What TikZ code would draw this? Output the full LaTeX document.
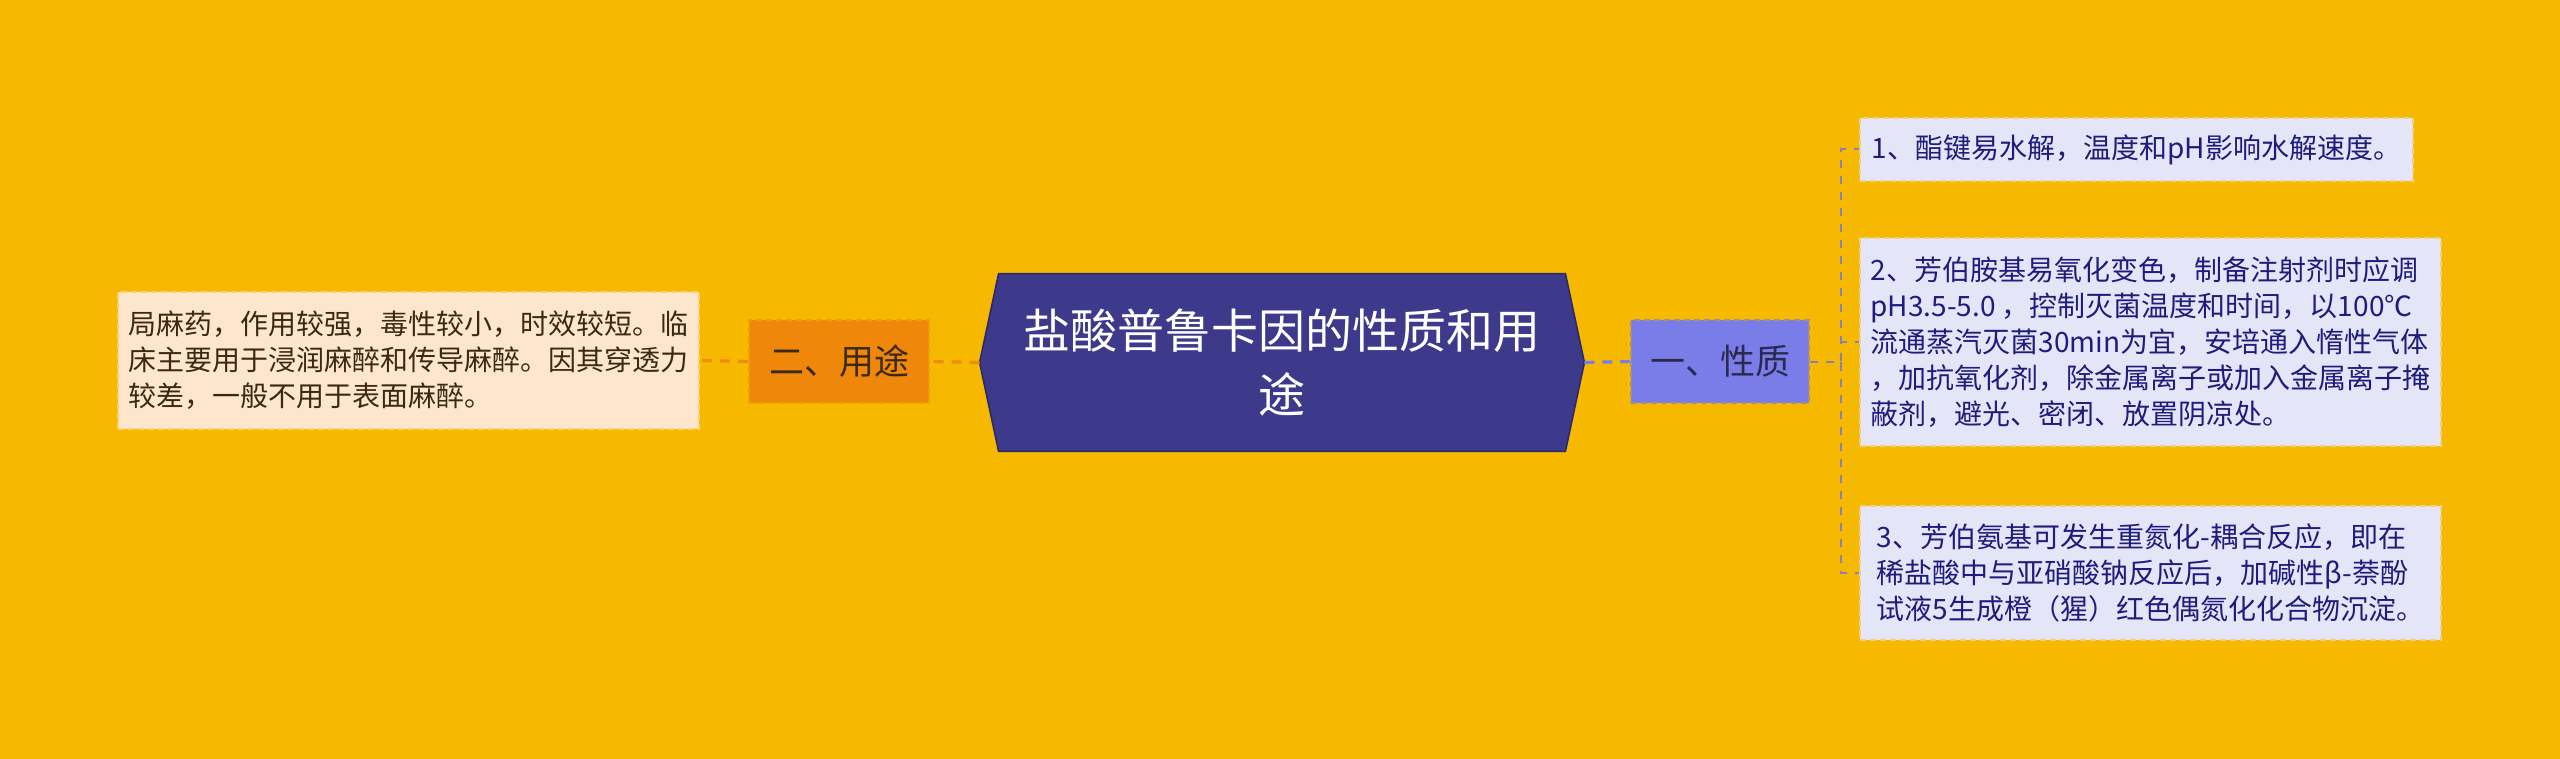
\documentclass[tikz,border=0pt]{standalone}
\usepackage{fontspec}
\setmainfont{Noto Sans CJK SC}
\usetikzlibrary{calc,backgrounds}
\definecolor{bg}{HTML}{F6B900}
\definecolor{rootfill}{HTML}{3D3A8C}
\definecolor{rootline}{HTML}{2C2968}
\definecolor{orangefill}{HTML}{EF870B}
\definecolor{orangeline}{HTML}{F08A12}
\definecolor{peach}{HTML}{FDE6CD}
\definecolor{peri}{HTML}{7A7CE8}
\definecolor{lav}{HTML}{E5E5F8}
\definecolor{navy}{HTML}{1E1C7C}
\definecolor{bus}{HTML}{8583B5}
\definecolor{darktext}{HTML}{3A2A14}
\definecolor{proptext}{HTML}{2A2A50}
\begin{document}
\begin{tikzpicture}[x=0.5pt,y=-0.5pt,
  leaf/.style={line width=1pt,dash pattern=on 3pt off 2pt,inner sep=0pt,align=left,font=\fontsize{14}{18}\selectfont},
  mid/.style={line width=1pt,dash pattern=on 3pt off 2pt,inner sep=0pt,minimum height=41.5pt,font=\fontsize{17.5}{21}\selectfont},
  conn/.style={line width=1.6pt,dash pattern=on 5pt off 4pt},
  busline/.style={draw=bus,line width=1pt,dash pattern=on 4pt off 4pt}]
\begin{scope}[on background layer]
\fill[bg] (0,0) rectangle (2560,759);
\end{scope}
\useasboundingbox (0,0) rectangle (2560,759);

% root
\node[minimum width=302pt,minimum height=88.5pt,inner sep=0pt,align=center,text=white,
  font=\fontsize{23.5}{32}\selectfont] (root) at (1282,362.5) {盐酸普鲁卡因的性质和用\\途};
\begin{scope}[on background layer]
\draw[fill=rootfill,draw=rootline,line width=0.8pt]
  (root.west) -- ([xshift=9.5pt]root.north west) -- ([xshift=-9.5pt]root.north east)
  -- (root.east) -- ([xshift=-9.5pt]root.south east) -- ([xshift=9.5pt]root.south west) -- cycle;
\end{scope}

% left side
\node[mid,fill=orangefill,draw=orangefill!55!bg,minimum width=90pt,text=darktext] (uses) at (839,361.5) {二、用途};
\node[leaf,fill=peach,draw=peach!55!bg,minimum width=290.5pt,minimum height=68.5pt,text=darktext] (usesText) at (408.5,360.5)
  {局麻药，作用较强，毒性较小，时效较短。临\\床主要用于浸润麻醉和传导麻醉。因其穿透力\\较差，一般不用于表面麻醉。};

% right side
\node[mid,fill=peri,draw=peri!60!bg!80!gray,minimum width=89pt,text=proptext] (prop) at (1720,361.5) {一、性质};
\node[leaf,fill=lav,draw=lav!55!bg,minimum width=276.5pt,minimum height=31.5pt,text=navy] (p1) at (2136.5,149.5)
  {1、酯键易水解，温度和pH影响水解速度。};
\node[leaf,fill=lav,draw=lav!55!bg,minimum width=290.5pt,minimum height=104pt,text=navy] (p2) at (2150.5,342)
  {2、芳伯胺基易氧化变色，制备注射剂时应调\\pH3.5-5.0 ，控制灭菌温度和时间，以100℃\\流通蒸汽灭菌30min为宜，安培通入惰性气体\\，加抗氧化剂，除金属离子或加入金属离子掩\\蔽剂，避光、密闭、放置阴凉处。};
\node[leaf,fill=lav,draw=lav!55!bg,minimum width=290.5pt,minimum height=67pt,text=navy] (p3) at (2150.5,573)
  {3、芳伯氨基可发生重氮化-耦合反应，即在\\稀盐酸中与亚硝酸钠反应后，加碱性β-萘酚\\试液5生成橙（猩）红色偶氮化化合物沉淀。};

% connectors
\draw[conn,draw=orangeline] (root.west) -- (uses.east);
\draw[conn,draw=orangeline] (uses.west) -- (usesText.east);
\draw[conn,draw=peri] (root.east) -- (prop.west);
\coordinate (bus) at ($(prop.east)+(31,0)$);
\draw[busline] (prop.east) -- (bus) |- (p1.west);
\draw[busline] (prop.east) -- (bus) |- (p2.west);
\draw[busline] (prop.east) -- (bus) |- (p3.west);
\end{tikzpicture}
\end{document}
